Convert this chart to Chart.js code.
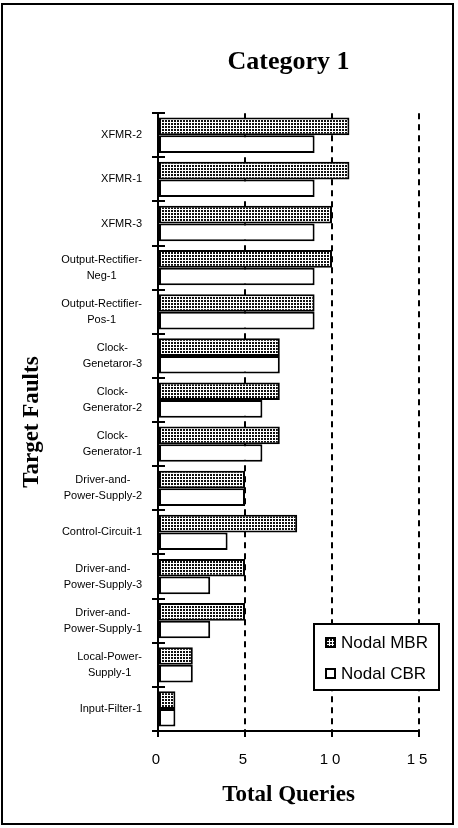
<!DOCTYPE html>
<html>
<head>
<meta charset="utf-8">
<script src="https://cdn.jsdelivr.net/npm/chart.js@4"></script>
<style>
  body { margin: 0; background: #fff; }
</style>
</head>
<body>
<canvas id="myChart" width="458" height="828"></canvas>
<script>
// data, top to bottom
const faults = [
    ['XFMR-2'],
    ['XFMR-1'],
    ['XFMR-3'],
    ['Output-Rectifier-', 'Neg-1'],
    ['Output-Rectifier-', 'Pos-1'],
    ['Clock-', 'Genetaror-3'],
    ['Clock-', 'Generator-2'],
    ['Clock-', 'Generator-1'],
    ['Driver-and-', 'Power-Supply-2'],
    ['Control-Circuit-1'],
    ['Driver-and-', 'Power-Supply-3'],
    ['Driver-and-', 'Power-Supply-1'],
    ['Local-Power-', 'Supply-1'],
    ['Input-Filter-1']
];
const mbrQueries = [11, 11, 10, 10, 9, 7, 7, 7, 5, 8, 5, 5, 2, 1];
const cbrQueries = [9, 9, 9, 9, 9, 7, 6, 6, 5, 4, 3, 3, 2, 1];
const xTicks = [0, 5, 10, 15];
const seriesNames = ['Nodal MBR', 'Nodal CBR'];

// dotted fill for the MBR bars
function dotPattern() {
    const c = document.createElement('canvas');
    c.width = 3;
    c.height = 3;
    const g = c.getContext('2d');
    g.fillStyle = '#fff';
    g.fillRect(0, 0, 3, 3);
    g.fillStyle = '#111';
    g.fillRect(0, 0, 2, 2);
    return g.createPattern(c, 'repeat');
}
const dots = dotPattern();

// frame, y labels, crossing ticks and the boxed legend
const extras = {
    id: 'extras',
    afterDatasetsDraw(chart) {
        chart.ctx.letterSpacing = '4px';   // spaced x tick digits (ticks drawn at z 1)
    },
    afterDraw(chart) {
        const ctx = chart.ctx;
        const area = chart.chartArea;
        const y = chart.scales.y;
        ctx.save();
        ctx.letterSpacing = '0px';

        // outer frame
        ctx.strokeStyle = '#000';
        ctx.lineWidth = 2;
        ctx.strokeRect(2, 4, 451, 820);

        // category labels, lines centred on each other
        ctx.font = '11px "Liberation Sans"';
        ctx.fillStyle = '#000';
        ctx.textAlign = 'center';
        ctx.textBaseline = 'middle';
        faults.forEach((lines, i) => {
            const cy = y.getPixelForValue(i);
            const w = Math.max(...lines.map(l => ctx.measureText(l).width));
            const cx = area.left - 16 - w / 2;
            lines.forEach((l, j) => {
                ctx.fillText(l, cx, cy + (j - (lines.length - 1) / 2) * 16);
            });
        });

        // ticks between categories, crossing the axis
        ctx.beginPath();
        for (let i = 0; i <= faults.length; i++) {
            const py = Math.round(y.getPixelForValue(i - 0.5));
            ctx.moveTo(area.left - 6, py);
            ctx.lineTo(area.left + 7, py);
        }
        ctx.stroke();

        // legend
        const bx = area.right - 105, by = 624, bw = 125, bh = 66;
        ctx.fillStyle = '#fff';
        ctx.fillRect(bx, by, bw, bh);
        ctx.strokeRect(bx, by, bw, bh);
        ctx.font = '17px "Liberation Sans"';
        ctx.textAlign = 'left';
        chart.data.datasets.forEach((ds, i) => {
            const ry = by + 18 + i * 31;
            ctx.fillStyle = ds.backgroundColor;
            ctx.fillRect(bx + 12, ry - 4, 9, 9);
            ctx.strokeRect(bx + 12, ry - 4, 9, 9);
            ctx.fillStyle = '#000';
            ctx.fillText(ds.label, bx + 27, ry + 1);
        });
        ctx.restore();
    }
};

const ctx = document.getElementById('myChart').getContext('2d');
const myChart = new Chart(ctx, {
    type: 'bar',
    data: {
        labels: faults,
        datasets: [{
            label: seriesNames[0],
            data: mbrQueries,
            backgroundColor: dots,
            borderColor: '#000',
            borderWidth: 2,
            borderSkipped: false
        }, {
            label: seriesNames[1],
            data: cbrQueries,
            backgroundColor: '#fff',
            borderColor: '#000',
            borderWidth: 2,
            borderSkipped: false
        }]
    },
    options: {
        indexAxis: 'y',
        responsive: false,
        animation: false,
        devicePixelRatio: 1,
        categoryPercentage: 0.8,
        barPercentage: 1.0,
        layout: { padding: { left: 0, right: 39, top: 0, bottom: 0 } },
        plugins: {
            legend: { display: false },
            tooltip: { enabled: false },
            title: {
                display: true,
                text: 'Category 1',
                fullSize: false,
                color: '#000',
                font: { family: 'Liberation Serif', size: 26, weight: 'bold' },
                padding: { top: 47, bottom: 35 }
            }
        },
        scales: {
            x: {
                min: 0,
                max: 15,
                afterBuildTicks: s => { s.ticks = xTicks.map(v => ({ value: v })); },
                afterFit: s => { s.height = 97; },
                grid: {
                    color: '#000',
                    lineWidth: 2,
                    tickLength: 6,
                    tickColor: '#000',
                    tickWidth: 2
                },
                border: { display: true, color: '#000', width: 2, dash: [6, 5] },
                ticks: {
                    z: 1,
                    color: '#000',
                    padding: 14,
                    maxRotation: 0,
                    font: { family: 'Liberation Sans', size: 15 }
                },
                title: {
                    display: true,
                    text: 'Total Queries',
                    color: '#000',
                    font: { family: 'Liberation Serif', size: 23, weight: 'bold' },
                    padding: { top: 0, bottom: 19 }
                }
            },
            y: {
                afterFit: s => { s.width = 158; },
                grid: { display: false },
                border: { display: true, color: '#000', width: 2 },
                ticks: { display: false },
                title: {
                    display: true,
                    text: 'Target Faults',
                    color: '#000',
                    font: { family: 'Liberation Serif', size: 23, weight: 'bold' },
                    padding: { top: 18, bottom: 0 }
                }
            }
        }
    },
    plugins: [extras]
});
</script>
</body>
</html>
